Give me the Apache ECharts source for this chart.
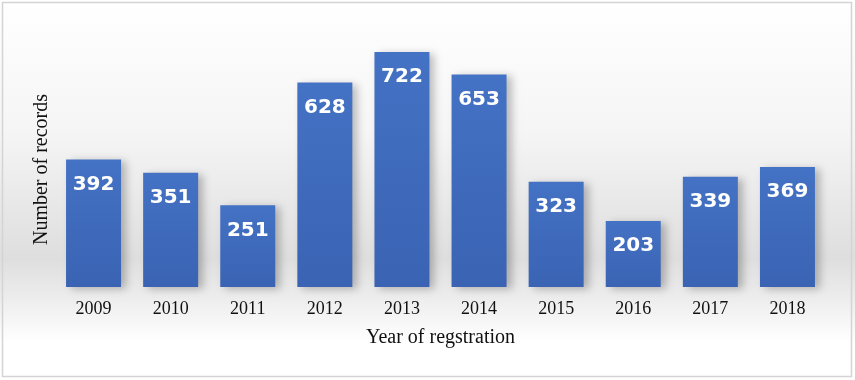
<!DOCTYPE html>
<html>
<head>
<meta charset="utf-8">
<script src="https://cdn.jsdelivr.net/npm/echarts@6/dist/echarts.min.js"></script>
<style>
    html, body { margin: 0; padding: 0; background: #fff; }
    #chart { width: 855px; height: 380px; }
</style>
</head>
<body>
<div id="chart"></div>
<script>
// 数据
const YEARS = ["2009", "2010", "2011", "2012", "2013", "2014", "2015", "2016", "2017", "2018"];
const RECORDS = [392, 351, 251, 628, 722, 653, 323, 203, 339, 369];

const SERIF = "'Liberation Serif', 'DejaVu Serif', serif";

const chart = echarts.init(document.getElementById("chart"));
chart.setOption({
    animation: false,
    backgroundColor: new echarts.graphic.LinearGradient(0, 0, 0, 1, [
        { offset: 0, color: "#ffffff" },
        { offset: 0.35, color: "#f5f5f5" },
        { offset: 0.68, color: "#dedede" },
        { offset: 0.78, color: "#ececec" },
        { offset: 0.9, color: "#ffffff" },
        { offset: 1, color: "#ffffff" },
    ]),
    graphic: [{
        type: "rect",
        shape: { x: 2.5, y: 2.5, width: 849, height: 374 },
        style: { fill: "none", stroke: "#d4d4d4", lineWidth: 1.5 },
        z: 100,
    }],
    grid: { left: 55, right: 29, top: 52, bottom: 93 },
    xAxis: {
        type: "category",
        data: YEARS,
        axisLine: { show: false },
        axisTick: { show: false },
        axisLabel: { fontFamily: SERIF, fontSize: 18, color: "#111", margin: 13 },
        name: "Year of regstration",
        nameLocation: "middle",
        nameGap: 41,
        nameTextStyle: { fontFamily: SERIF, fontSize: 20, color: "#111" },
    },
    yAxis: {
        type: "value",
        min: 0,
        max: 722,
        axisLine: { show: false },
        axisTick: { show: false },
        axisLabel: { show: false },
        splitLine: { show: false },
        name: "Number of records",
        nameLocation: "middle",
        nameGap: 3,
        nameTextStyle: { fontFamily: SERIF, fontSize: 20, color: "#111" },
    },
    series: [{
        type: "bar",
        data: RECORDS,
        barWidth: 55,
        itemStyle: {
            color: new echarts.graphic.LinearGradient(0, 0, 0, 1, [
                { offset: 0, color: "#4472c4" },
                { offset: 1, color: "#3a63b3" },
            ]),
            shadowColor: "rgba(0,0,0,0.25)",
            shadowBlur: 8,
            shadowOffsetX: 5,
            shadowOffsetY: 2,
        },
        label: {
            show: true,
            position: "insideTop",
            distance: 15,
            color: "#fff",
            fontFamily: "'DejaVu Sans', sans-serif",
            fontWeight: "bold",
            fontSize: 20,
        },
    }],
});
</script>
</body>
</html>
